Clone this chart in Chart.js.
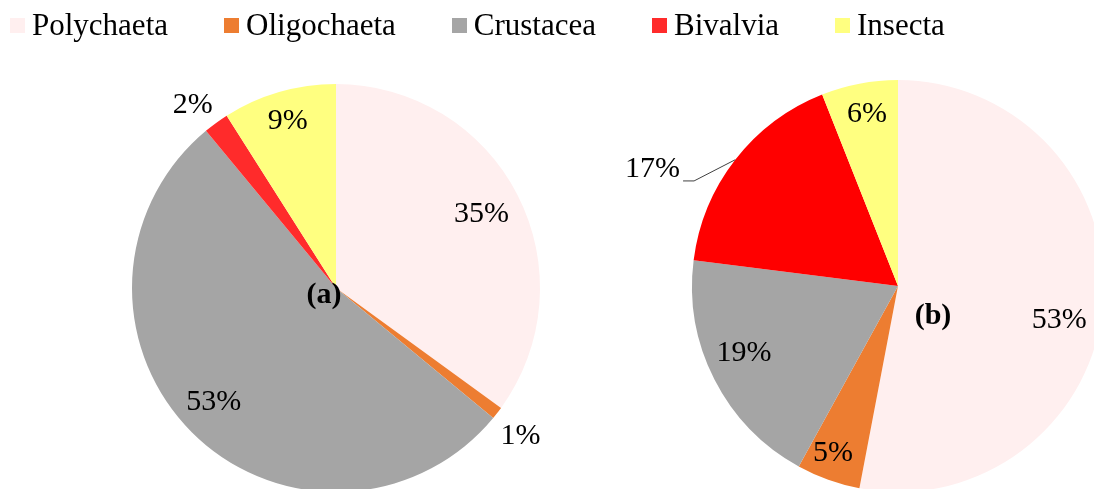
<!DOCTYPE html>
<html>
<head>
<meta charset="utf-8">
<script src="https://cdn.jsdelivr.net/npm/chart.js@4"></script>
<style>
  html, body { margin: 0; padding: 0; background: #fff; }
  body { width: 1094px; height: 489px; overflow: hidden; position: relative; font-family: "Liberation Serif", "Times New Roman", serif; }
  canvas { position: absolute; left: 0; top: 0; }
  .legend { position: absolute; left: 10px; top: 7px; display: flex; white-space: nowrap; z-index: 2; }
  .legend .item { display: inline-flex; align-items: center; margin-right: 56px; font-size: 31px; color: #000; }
  .legend .box { width: 15px; height: 15px; margin-right: 7px; }
</style>
</head>
<body>
<div class="legend" id="legend"></div>
<canvas id="pieA" width="1120" height="520"></canvas>
<canvas id="pieB" width="1120" height="520"></canvas>
<script>
const categories = ["Polychaeta", "Oligochaeta", "Crustacea", "Bivalvia", "Insecta"];
const shareA = [35, 1, 53, 2, 9];
const shareB = [53, 5, 19, 17, 6];
const colorsA = ["#ffefef", "#ed7d31", "#a5a5a5", "#ff2b2b", "#ffff80"];
const colorsB = ["#ffefef", "#ed7d31", "#a5a5a5", "#ff0000", "#ffff80"];

document.getElementById("legend").innerHTML = categories
  .map((name, i) => `<span class="item"><span class="box" style="background:${colorsA[i]}"></span>${name}</span>`)
  .join("");

const serif = '"Liberation Serif", "Times New Roman", serif';

// draws the % labels, an optional leader line and the panel letter
const sliceLabels = {
  id: "sliceLabels",
  afterDatasetsDraw(chart, args, opts) {
    const ctx = chart.ctx;
    const meta = chart.getDatasetMeta(0);
    const data = chart.data.datasets[0].data;
    let cx = 0, cy = 0;
    ctx.save();
    ctx.fillStyle = "#000";
    ctx.textAlign = "center";
    ctx.textBaseline = "middle";
    ctx.font = `30px ${serif}`;
    meta.data.forEach((arc, i) => {
      const p = arc.getProps(["x", "y", "startAngle", "endAngle", "outerRadius"], true);
      cx = p.x; cy = p.y;
      const [f, shift] = opts.place[i];
      const mid = (p.startAngle + p.endAngle) / 2;
      const a = mid + shift * Math.PI / 180;
      const lx = p.x + Math.cos(a) * p.outerRadius * f;
      const ly = p.y + Math.sin(a) * p.outerRadius * f;
      const text = data[i] + "%";
      ctx.fillText(text, lx, ly);
      if (opts.leader === i) {
        const right = lx + ctx.measureText(text).width / 2;
        ctx.strokeStyle = "#404040";
        ctx.lineWidth = 1;
        ctx.beginPath();
        ctx.moveTo(p.x + Math.cos(mid) * p.outerRadius, p.y + Math.sin(mid) * p.outerRadius);
        ctx.lineTo(right + 14, ly + 12);
        ctx.lineTo(right + 3, ly + 12);
        ctx.stroke();
      }
    });
    ctx.font = `bold 30px ${serif}`;
    ctx.fillText(opts.caption, cx + opts.captionAt[0], cy + opts.captionAt[1]);
    ctx.restore();
  }
};

function makePie(id, values, colors, padding, labelOpts) {
  new Chart(document.getElementById(id), {
    type: "pie",
    data: {
      labels: categories,
      datasets: [{ data: values, backgroundColor: colors, borderWidth: 0, hoverOffset: 0 }]
    },
    options: {
      responsive: false,
      animation: false,
      events: [],
      layout: { padding },
      plugins: {
        legend: { display: false },
        tooltip: { enabled: false },
        sliceLabels: labelOpts
      }
    },
    plugins: [sliceLabels]
  });
}

makePie("pieA", shareA, colorsA, { left: 132, right: 580, top: 84, bottom: 28 }, {
  place: [[0.8, 0], [1.16, 1], [0.82, 2], [1.14, -2], [0.85, 0]],
  caption: "(a)",
  captionAt: [-12, 7]
});

makePie("pieB", shareB, colorsB, { left: 692, right: 16, top: 80, bottom: 28 }, {
  place: [[0.8, 6.6], [0.87, 1.5], [0.815, 3.5], [1.32, -12.3], [0.85, 0.6]],
  leader: 3,
  caption: "(b)",
  captionAt: [35, 30]
});
</script>
</body>
</html>
